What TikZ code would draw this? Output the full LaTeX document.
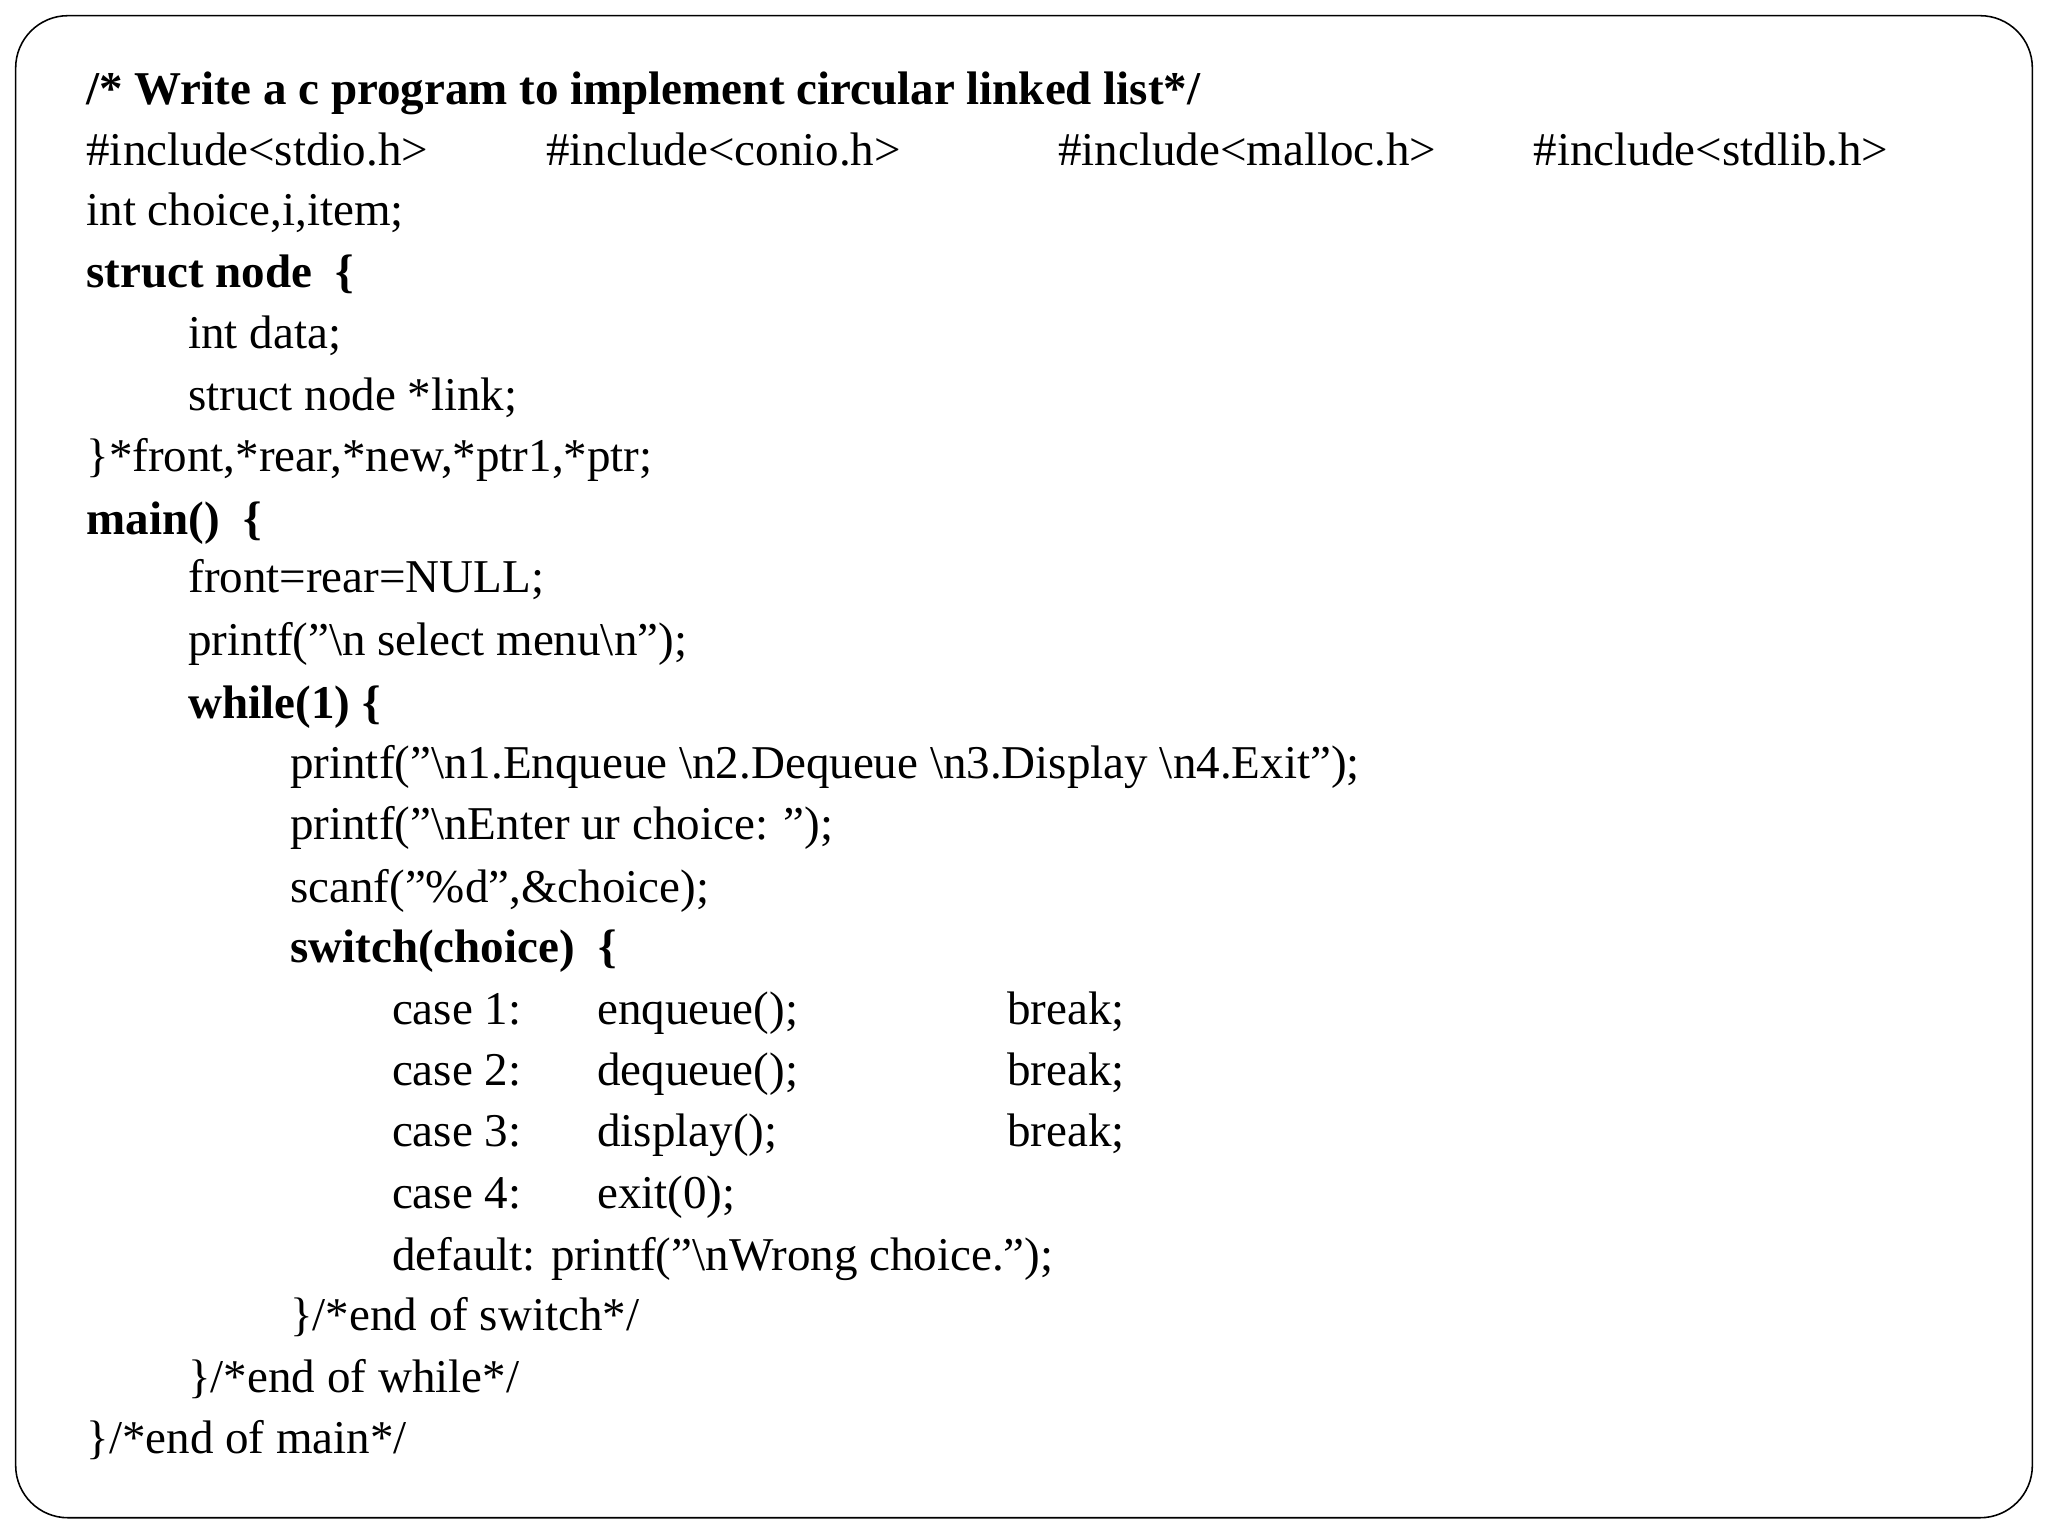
\documentclass[tikz,border=0pt]{standalone}
\usepackage{fontspec}
\setmainfont{Liberation Serif}
\newcommand{\bs}{\textbackslash}
\begin{document}
\begin{tikzpicture}[x=1pt,y=-1pt,txt/.style={anchor=base west,inner sep=0pt,font=\fontsize{36}{40}\selectfont}]
\useasboundingbox (0,0) rectangle (1568,1176);
\draw[line width=1.2pt,rounded corners=40pt] (12,12) rectangle (1556,1162);
\def\b{13}
\node[txt] (l1) at (66,67+\b) {\bfseries /* Write a c program to implement circular linked list*/};
\node[txt] (i1) at (66,114+\b) {\#include<stdio.h>};
\node[txt] (i2) at (418,114+\b) {\#include<conio.h>};
\node[txt] (i3) at (810,114+\b) {\#include<malloc.h>};
\node[txt] (i4) at (1174,114+\b) {\#include<stdlib.h>};
\node[txt] (l3) at (66,160+\b) {int choice,i,item;};
\node[txt] (l4) at (66,207+\b) {\bfseries struct node\ \ \{};
\node[txt] (l5) at (144,254+\b) {int data;};
\node[txt] (l6) at (144,301+\b) {struct node *link;};
\node[txt] (l7) at (66,348+\b) {\}*front,*rear,*new,*ptr1,*ptr;};
\node[txt] (l8) at (66,396+\b) {\bfseries main()\ \ \{};
\node[txt] (l9) at (144,441+\b) {front=rear=NULL;};
\node[txt] (l10) at (144,489+\b) {printf("\bs n select menu\bs n");};
\node[txt] (l11) at (144,537+\b) {\bfseries while(1) \{};
\node[txt] (l12) at (222,583+\b) {printf("\bs n1.Enqueue \bs n2.Dequeue \bs n3.Display \bs n4.Exit");};
\node[txt] (l13) at (222,630+\b) {printf("\bs nEnter ur choice: ");};
\node[txt] (l14) at (222,678+\b) {scanf("\%d",\&choice);};
\node[txt] (l15) at (222,724+\b) {\bfseries switch(choice)\ \ \{};
\node[txt] (c1) at (300,771+\b) {case 1:};
\node[txt] (f1) at (457,771+\b) {enqueue();};
\node[txt] (k1) at (771,771+\b) {break;};
\node[txt] (c2) at (300,818+\b) {case 2:};
\node[txt] (f2) at (457,818+\b) {dequeue();};
\node[txt] (k2) at (771,818+\b) {break;};
\node[txt] (c3) at (300,865+\b) {case 3:};
\node[txt] (f3) at (457,865+\b) {display();};
\node[txt] (k3) at (771,865+\b) {break;};
\node[txt] (c4) at (300,912+\b) {case 4:};
\node[txt] (f4) at (457,912+\b) {exit(0);};
\node[txt] (d) at (300,960+\b) {default: printf("\bs nWrong choice.");};
\node[txt] (e1) at (222,1006+\b) {\}/*end of switch*/};
\node[txt] (e2) at (144,1053+\b) {\}/*end of while*/};
\node[txt] (e3) at (66,1100+\b) {\}/*end of main*/};
\end{tikzpicture}
\end{document}
